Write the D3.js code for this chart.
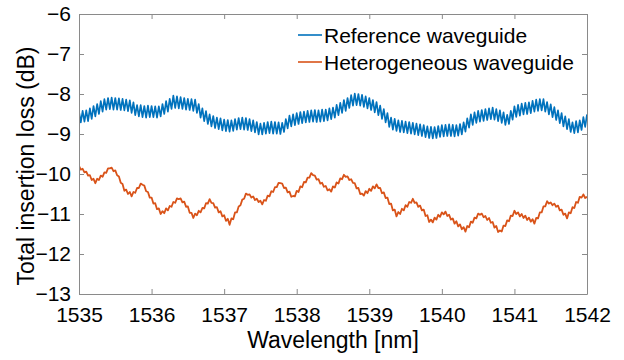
<!DOCTYPE html>
<html>
<head>
<meta charset="utf-8">
<script src="https://cdn.jsdelivr.net/npm/d3@7"></script>
<style>
  body { margin: 0; background: #fff; }
  svg text { font-family: 'Liberation Sans', Arial, sans-serif; fill: #000; }
</style>
</head>
<body>
<svg id="chart" width="624" height="360"></svg>
<script>
// wavelength grid: 1535 .. 1542 nm, one sample every 0.025 nm
const wlStart = 1535;
const wlEnd = 1542;
const xTicks = [1535, 1536, 1537, 1538, 1539, 1540, 1541, 1542];
const yTicks = [-6, -7, -8, -9, -10, -11, -12, -13];
const seriesNames = ['Reference waveguide', 'Heterogeneous waveguide'];
const colors = ['#0072BD', '#D95319'];

const reference = [
  -8.44, -8.71, -8.42, -8.69, -8.41, -8.68, -8.36, -8.62, -8.30, -8.56, -8.25, -8.50,
  -8.18, -8.44, -8.13, -8.39, -8.10, -8.38, -8.09, -8.39, -8.10, -8.39, -8.11, -8.40,
  -8.12, -8.41, -8.14, -8.43, -8.16, -8.47, -8.21, -8.53, -8.28, -8.56, -8.28, -8.58,
  -8.30, -8.59, -8.29, -8.58, -8.30, -8.58, -8.31, -8.59, -8.31, -8.56, -8.25, -8.50,
  -8.18, -8.44, -8.12, -8.37, -8.04, -8.35, -8.06, -8.36, -8.08, -8.37, -8.10, -8.39,
  -8.12, -8.40, -8.13, -8.42, -8.14, -8.47, -8.25, -8.59, -8.36, -8.68, -8.43, -8.75,
  -8.51, -8.81, -8.55, -8.85, -8.59, -8.88, -8.61, -8.91, -8.64, -8.93, -8.65, -8.94,
  -8.66, -8.92, -8.63, -8.89, -8.60, -8.88, -8.59, -8.89, -8.60, -8.90, -8.63, -8.93,
  -8.66, -8.96, -8.70, -9.01, -8.74, -9.01, -8.72, -8.99, -8.70, -8.98, -8.69, -8.99,
  -8.70, -8.99, -8.71, -9.00, -8.72, -8.95, -8.63, -8.86, -8.54, -8.81, -8.51, -8.78,
  -8.48, -8.75, -8.45, -8.73, -8.44, -8.71, -8.42, -8.70, -8.41, -8.69, -8.40, -8.70,
  -8.41, -8.69, -8.39, -8.68, -8.39, -8.66, -8.36, -8.63, -8.34, -8.59, -8.27, -8.53,
  -8.22, -8.47, -8.15, -8.42, -8.10, -8.35, -8.03, -8.29, -7.99, -8.28, -8.00, -8.29,
  -8.02, -8.32, -8.06, -8.36, -8.10, -8.40, -8.15, -8.46, -8.20, -8.53, -8.29, -8.62,
  -8.38, -8.71, -8.48, -8.82, -8.59, -8.89, -8.62, -8.92, -8.66, -8.95, -8.67, -8.96,
  -8.69, -8.98, -8.70, -8.99, -8.72, -9.01, -8.74, -9.03, -8.76, -9.05, -8.78, -9.08,
  -8.81, -9.10, -8.82, -9.11, -8.83, -9.10, -8.80, -9.07, -8.78, -9.06, -8.77, -9.05,
  -8.76, -9.05, -8.77, -9.06, -8.78, -9.04, -8.75, -9.01, -8.71, -8.94, -8.61, -8.84,
  -8.51, -8.77, -8.46, -8.72, -8.42, -8.69, -8.40, -8.67, -8.38, -8.65, -8.36, -8.63,
  -8.34, -8.64, -8.38, -8.68, -8.41, -8.72, -8.46, -8.77, -8.52, -8.75, -8.42, -8.64,
  -8.31, -8.57, -8.27, -8.54, -8.24, -8.51, -8.22, -8.50, -8.21, -8.48, -8.17, -8.44,
  -8.14, -8.42, -8.13, -8.41, -8.13, -8.44, -8.20, -8.51, -8.26, -8.58, -8.33, -8.65,
  -8.41, -8.73, -8.48, -8.81, -8.56, -8.88, -8.63, -8.95, -8.71, -8.98, -8.68, -8.96,
  -8.66, -8.90, -8.58, -8.82, -8.51,
];

const heterogeneous = [
  -9.80, -9.89, -9.87, -9.96, -9.94, -10.04, -10.03, -10.15, -10.12, -10.23, -10.12, -10.15,
  -10.04, -10.07, -9.96, -9.97, -9.86, -9.86, -9.84, -9.93, -9.91, -10.03, -10.06, -10.22,
  -10.25, -10.42, -10.39, -10.50, -10.45, -10.56, -10.45, -10.47, -10.35, -10.35, -10.24, -10.27,
  -10.29, -10.43, -10.45, -10.59, -10.59, -10.74, -10.73, -10.88, -10.86, -11.00, -10.93, -10.98,
  -10.86, -10.91, -10.80, -10.82, -10.70, -10.72, -10.61, -10.63, -10.61, -10.71, -10.69, -10.82,
  -10.81, -10.97, -10.97, -11.10, -10.99, -11.03, -10.92, -10.96, -10.85, -10.86, -10.73, -10.74,
  -10.63, -10.72, -10.73, -10.84, -10.83, -10.96, -10.93, -11.06, -11.03, -11.17, -11.12, -11.27,
  -11.11, -11.13, -10.96, -10.96, -10.81, -10.78, -10.64, -10.62, -10.49, -10.52, -10.51, -10.59,
  -10.56, -10.65, -10.62, -10.70, -10.67, -10.76, -10.65, -10.67, -10.54, -10.56, -10.43, -10.45,
  -10.33, -10.33, -10.22, -10.23, -10.24, -10.35, -10.34, -10.46, -10.44, -10.57, -10.55, -10.56,
  -10.42, -10.45, -10.31, -10.33, -10.20, -10.21, -10.09, -10.09, -9.98, -10.03, -10.04, -10.14,
  -10.13, -10.24, -10.22, -10.32, -10.30, -10.41, -10.38, -10.44, -10.31, -10.34, -10.21, -10.24,
  -10.11, -10.13, -10.02, -10.07, -10.06, -10.15, -10.13, -10.22, -10.23, -10.36, -10.35, -10.50,
  -10.49, -10.54, -10.43, -10.48, -10.37, -10.42, -10.31, -10.36, -10.26, -10.35, -10.35, -10.48,
  -10.46, -10.60, -10.59, -10.75, -10.74, -10.91, -10.89, -11.06, -10.95, -11.00, -10.87, -10.91,
  -10.78, -10.82, -10.70, -10.72, -10.62, -10.72, -10.71, -10.82, -10.79, -10.91, -10.89, -11.05,
  -11.03, -11.20, -11.14, -11.21, -11.09, -11.14, -11.02, -11.07, -10.96, -11.01, -10.94, -11.05,
  -11.02, -11.14, -11.11, -11.24, -11.18, -11.31, -11.26, -11.38, -11.33, -11.44, -11.30, -11.33,
  -11.19, -11.22, -11.09, -11.11, -10.99, -11.02, -10.99, -11.08, -11.05, -11.15, -11.10, -11.22,
  -11.20, -11.34, -11.30, -11.45, -11.41, -11.44, -11.29, -11.30, -11.16, -11.18, -11.04, -11.05,
  -10.92, -11.00, -10.96, -11.06, -11.00, -11.10, -11.04, -11.15, -11.09, -11.19, -11.13, -11.24,
  -11.10, -11.11, -10.96, -10.96, -10.81, -10.81, -10.68, -10.74, -10.71, -10.78, -10.74, -10.82,
  -10.79, -10.91, -10.89, -11.02, -10.99, -11.11, -10.96, -10.98, -10.83, -10.85, -10.70, -10.72,
  -10.57, -10.59, -10.51, -10.60, -10.57,
];

const margin = { left: 79, right: 37, top: 14, bottom: 66 };
const svg = d3.select('#chart');
const width = +svg.attr('width');
const height = +svg.attr('height');
const innerWidth = width - margin.left - margin.right;
const innerHeight = height - margin.top - margin.bottom;
const axisColor = '#8a8a8a';

function toPoints(values) {
  const step = (wlEnd - wlStart) / (values.length - 1);
  return values.map((v, i) => ({ wl: wlStart + i * step, v }));
}

function setupGraph() {
  const g = svg.append('g').attr('transform', `translate(${margin.left},${margin.top})`);
  const xScale = d3.scaleLinear().domain([wlStart, wlEnd]).range([0, innerWidth]);
  const yScale = d3.scaleLinear().domain([-13, -6]).range([innerHeight, 0]);

  g.append('clipPath')
    .attr('id', 'plot-clip')
    .append('rect')
    .attr('width', innerWidth)
    .attr('height', innerHeight);

  const line = d3.line()
    .x((d) => xScale(d.wl))
    .y((d) => yScale(d.v));

  [reference, heterogeneous].forEach((values, index) => {
    g.append('path')
      .datum(toPoints(values))
      .attr('clip-path', 'url(#plot-clip)')
      .attr('fill', 'none')
      .attr('stroke', colors[index])
      .attr('stroke-width', index === 0 ? 1.7 : 1.8)
      .attr('stroke-linejoin', 'round')
      .attr('d', line);
  });

  // MATLAB style box with inward ticks on all four sides
  const xAxisB = d3.axisBottom(xScale).tickValues(xTicks).tickFormat(d3.format('d'))
    .tickSizeInner(-5).tickSizeOuter(0).tickPadding(13);
  const xAxisT = d3.axisTop(xScale).tickValues(xTicks)
    .tickSizeInner(-5).tickSizeOuter(0);
  const yAxisL = d3.axisLeft(yScale).tickValues(yTicks).tickFormat(d3.format('d'))
    .tickSizeInner(-5).tickSizeOuter(0).tickPadding(8);
  const yAxisR = d3.axisRight(yScale).tickValues(yTicks)
    .tickSizeInner(-5).tickSizeOuter(0);

  const xb = g.append('g').attr('transform', `translate(0,${innerHeight})`).call(xAxisB);
  const xt = g.append('g').call(xAxisT);
  const yl = g.append('g').call(yAxisL);
  const yr = g.append('g').attr('transform', `translate(${innerWidth},0)`).call(yAxisR);

  // the top and right sides only carry tick marks
  xt.selectAll('.tick text').remove();
  yr.selectAll('.tick text').remove();

  [xb, xt, yl, yr].forEach((ax) => {
    ax.select('.domain').attr('stroke', axisColor).attr('stroke-width', 1);
    ax.selectAll('.tick line').attr('stroke', axisColor);
    ax.selectAll('.tick text').attr('font-size', 21).attr('fill', '#000')
      .style('font-family', "'Liberation Sans', Arial, sans-serif");
  });

  g.append('text')
    .attr('x', innerWidth / 2)
    .attr('y', innerHeight + 54)
    .attr('text-anchor', 'middle')
    .attr('font-size', 23)
    .text('Wavelength [nm]');

  g.append('text')
    .attr('transform', `translate(${34 - margin.left},${innerHeight / 2 + 12}) rotate(-90)`)
    .attr('text-anchor', 'middle')
    .attr('font-size', 23)
    .text('Total insertion loss (dB)');
}

function setupLegend() {
  const legend = svg.append('g');
  seriesNames.forEach((name, i) => {
    const y = 35 + i * 27;
    legend.append('line')
      .attr('x1', 298).attr('x2', 322)
      .attr('y1', y).attr('y2', y)
      .attr('stroke', colors[i])
      .attr('stroke-width', 1.6);
    legend.append('text')
      .attr('x', 324)
      .attr('y', y + 8)
      .attr('font-size', 21)
      .text(name);
  });
}

setupGraph();
setupLegend();
</script>
</body>
</html>
